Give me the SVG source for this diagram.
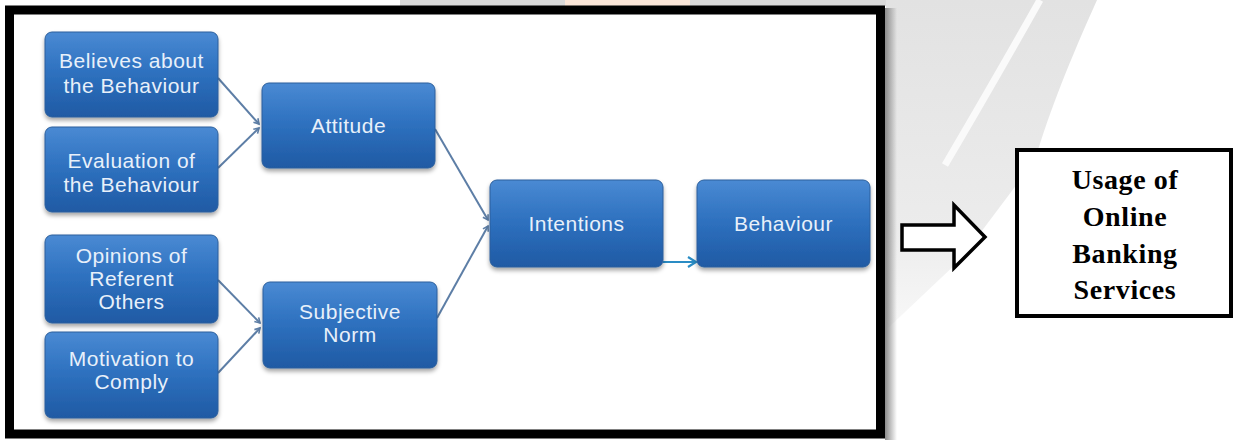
<svg xmlns="http://www.w3.org/2000/svg" width="1235" height="440" viewBox="0 0 1235 440">
<defs>
<linearGradient id="boxg" x1="0" y1="0" x2="0" y2="1">
<stop offset="0" stop-color="#4a8ad3"/>
<stop offset="0.45" stop-color="#2f72c0"/>
<stop offset="1" stop-color="#1f5aa4"/>
</linearGradient>
<linearGradient id="shadeR" x1="0" y1="0" x2="1" y2="0">
<stop offset="0" stop-color="#8a8a8a"/>
<stop offset="1" stop-color="#8a8a8a" stop-opacity="0"/>
</linearGradient>
<linearGradient id="wm" x1="0" y1="0" x2="0" y2="1">
<stop offset="0" stop-color="#e2e2e2"/>
<stop offset="0.7" stop-color="#ececec"/>
<stop offset="1" stop-color="#f8f8f8"/>
</linearGradient>
<filter id="sh" x="-10%" y="-10%" width="120%" height="130%">
<feDropShadow dx="0" dy="3" stdDeviation="2" flood-color="#000" flood-opacity="0.35"/>
</filter>
<marker id="ah" markerWidth="8" markerHeight="8" refX="6" refY="4" orient="auto" markerUnits="userSpaceOnUse">
<path d="M1,1 L6,4 L1,7" fill="none" stroke="#5d7ea6" stroke-width="1.6"/>
</marker>
<marker id="aht" markerWidth="12" markerHeight="12" refX="9" refY="6" orient="auto" markerUnits="userSpaceOnUse">
<path d="M1,1 L9,6 L1,11" fill="none" stroke="#2a8cc4" stroke-width="2.2"/>
</marker>
<style>
.box{fill:url(#boxg);stroke:#2c5f9c;stroke-width:1;filter:url(#sh)}
.bt{font-family:"Liberation Sans",Arial,sans-serif;font-size:21px;fill:#e8f0fa;text-anchor:middle;letter-spacing:0.5px}
.con{fill:none;stroke:#5d7ea6;stroke-width:2;marker-end:url(#ah)}
.rt{font-family:"Liberation Serif","Times New Roman",serif;font-size:28px;font-weight:bold;fill:#000;text-anchor:middle;letter-spacing:0.6px}
</style>
</defs>
<rect width="1235" height="440" fill="#ffffff"/>
<!-- watermark background -->
<path d="M886,0 L1097,0 C1070,60 1050,110 1035,160 L960,260 L886,330 Z" fill="url(#wm)"/>
<path d="M1040,0 Q995,80 945,165" fill="none" stroke="#fafafa" stroke-width="7"/>
<rect x="400" y="0" width="486" height="6" fill="#d9d9d9"/>
<rect x="565" y="0" width="125" height="6" fill="#fbe6d8"/>
<!-- frame shadow -->
<rect x="885" y="8" width="12" height="432" fill="url(#shadeR)"/>
<!-- outer frame -->
<rect x="9.5" y="10" width="871" height="424" fill="#ffffff" stroke="#000000" stroke-width="9"/>

<g id="connectors">
<path class="con" d="M218,78 L259,124"/>
<path class="con" d="M218,168 L259,128"/>
<path class="con" d="M218,280 L260,323"/>
<path class="con" d="M218,373 L260,328"/>
<path class="con" d="M435,129 L488,220"/>
<path class="con" d="M437,318 L488,226"/>
<path d="M663,262 L696,262" fill="none" stroke="#2a8cc4" stroke-width="2" marker-end="url(#aht)"/>
</g>

<g id="believes">
<rect class="box" x="45" y="32" width="173" height="85" rx="7"/>
<text class="bt" x="131.5" y="68">Believes about</text>
<text class="bt" x="131.5" y="93">the Behaviour</text>
</g>
<g id="evaluation">
<rect class="box" x="45" y="127" width="173" height="85" rx="7"/>
<text class="bt" x="131.5" y="168">Evaluation of</text>
<text class="bt" x="131.5" y="192">the Behaviour</text>
</g>
<g id="attitude">
<rect class="box" x="262" y="83" width="173" height="85" rx="7"/>
<text class="bt" x="348.5" y="133">Attitude</text>
</g>
<g id="opinions">
<rect class="box" x="45" y="235" width="173" height="88" rx="7"/>
<text class="bt" x="131.5" y="263">Opinions of</text>
<text class="bt" x="131.5" y="286">Referent</text>
<text class="bt" x="131.5" y="309">Others</text>
</g>
<g id="motivation">
<rect class="box" x="45" y="332" width="173" height="86" rx="7"/>
<text class="bt" x="131.5" y="366">Motivation to</text>
<text class="bt" x="131.5" y="389">Comply</text>
</g>
<g id="subjective">
<rect class="box" x="263" y="282" width="174" height="86" rx="7"/>
<text class="bt" x="350" y="319">Subjective</text>
<text class="bt" x="350" y="342">Norm</text>
</g>
<g id="intentions">
<rect class="box" x="490" y="180" width="173" height="87" rx="7"/>
<text class="bt" x="576.5" y="231">Intentions</text>
</g>
<g id="behaviour">
<rect class="box" x="697" y="180" width="173" height="87" rx="7"/>
<text class="bt" x="783.5" y="231">Behaviour</text>
</g>

<g id="bigarrow">
<polygon points="902,225 954,225 954,205 985,237 954,268 954,250 902,250" fill="#ffffff" stroke="#000000" stroke-width="3.5" stroke-linejoin="miter"/>
</g>
<g id="usage">
<rect x="1017" y="150" width="214" height="166" fill="#ffffff" stroke="#000000" stroke-width="4"/>
<text class="rt" x="1125" y="189">Usage of</text>
<text class="rt" x="1125" y="226">Online</text>
<text class="rt" x="1125" y="263">Banking</text>
<text class="rt" x="1125" y="299">Services</text>
</g>
</svg>
